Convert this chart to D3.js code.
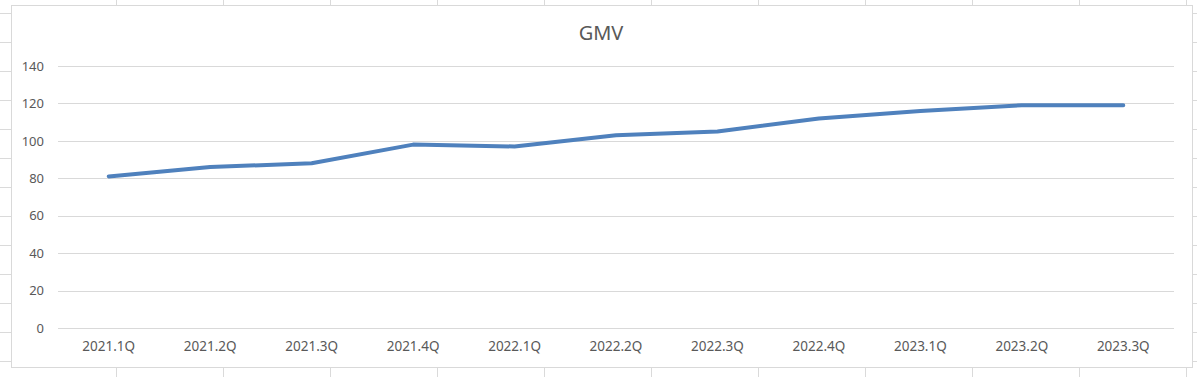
<!DOCTYPE html>
<html>
<head>
<meta charset="utf-8">
<script src="https://cdn.jsdelivr.net/npm/d3@7"></script>
<style>
    body { margin: 0; background: #fff; }
    svg { display: block; }
    text { font-family: "Noto Sans", "Open Sans", sans-serif; fill: #595959; }
</style>
</head>
<body>
<svg id="chart"></svg>
<script>
const quarters = ['2021.1Q', '2021.2Q', '2021.3Q', '2021.4Q', '2022.1Q', '2022.2Q',
    '2022.3Q', '2022.4Q', '2023.1Q', '2023.2Q', '2023.3Q'];
const gmv = [81, 86, 88, 98, 97, 103, 105, 112, 116, 119, 119];
const yTicks = [0, 20, 40, 60, 80, 100, 120, 140];
const title = 'GMV';

const W = 1197, H = 377;
const box = {left: 11, top: 5, right: 1192, bottom: 367};
const margin = {top: 66, left: 58};
const plotW = 1116, plotH = 262;

const svg = d3.select('#chart')
    .attr('width', W)
    .attr('height', H);

// spreadsheet cell grid behind the chart object
const cols = d3.range(116, W, 107);
const rows = d3.range(13, H, 29);
svg.append('g').selectAll('line')
    .data(cols)
    .enter()
    .append('line')
    .attr('x1', d => d + 0.5).attr('x2', d => d + 0.5)
    .attr('y1', 0).attr('y2', H)
    .attr('stroke', '#dadada');
svg.append('g').selectAll('line')
    .data(rows)
    .enter()
    .append('line')
    .attr('x1', 0).attr('x2', W)
    .attr('y1', d => d + 0.5).attr('y2', d => d + 0.5)
    .attr('stroke', '#dadada');

// chart area
svg.append('rect')
    .attr('x', box.left + 0.5)
    .attr('y', box.top + 0.5)
    .attr('width', box.right - box.left)
    .attr('height', box.bottom - box.top)
    .attr('fill', '#fff')
    .attr('stroke', '#d9d9d9');

const xScale = d3.scaleBand()
    .domain(quarters)
    .range([0, plotW]);

const yScale = d3.scaleLinear()
    .domain([0, 140])
    .range([plotH, 0]);

const chart = svg.append('g')
    .attr('transform', `translate(${margin.left},${margin.top})`);

// gridlines
chart.append('g')
    .selectAll('line')
    .data(yTicks)
    .enter()
    .append('line')
    .attr('x1', 0)
    .attr('x2', plotW)
    .attr('y1', d => Math.round(yScale(d)) + 0.5)
    .attr('y2', d => Math.round(yScale(d)) + 0.5)
    .attr('stroke', '#d9d9d9');

const yAxis = d3.axisLeft(yScale)
    .tickValues(yTicks)
    .tickSize(0)
    .tickPadding(14);

const xAxis = d3.axisBottom(xScale)
    .tickSize(0)
    .tickPadding(13);

const yAxisGroup = chart.append('g').call(yAxis);
yAxisGroup.select('.domain').remove();
yAxisGroup.selectAll('text')
    .attr('font-size', 13)
    .style('font-family', '"Noto Sans", sans-serif')
    .attr('fill', '#595959');

const xAxisGroup = chart.append('g')
    .attr('transform', `translate(0,${plotH})`)
    .call(xAxis);
xAxisGroup.select('.domain').remove();
xAxisGroup.selectAll('text')
    .attr('font-size', 13.5)
    .style('font-family', '"Noto Sans", sans-serif')
    .attr('fill', '#595959');

const line = d3.line()
    .x((d, i) => xScale(quarters[i]) + xScale.bandwidth() / 2)
    .y(d => yScale(d));

chart.append('path')
    .datum(gmv)
    .attr('d', line)
    .attr('fill', 'none')
    .attr('stroke', '#4f81bd')
    .attr('stroke-width', 4)
    .attr('stroke-linejoin', 'round')
    .attr('stroke-linecap', 'round');

svg.append('text')
    .attr('x', 601)
    .attr('y', 40)
    .attr('text-anchor', 'middle')
    .attr('font-size', 20)
    .text(title);
</script>
</body>
</html>
